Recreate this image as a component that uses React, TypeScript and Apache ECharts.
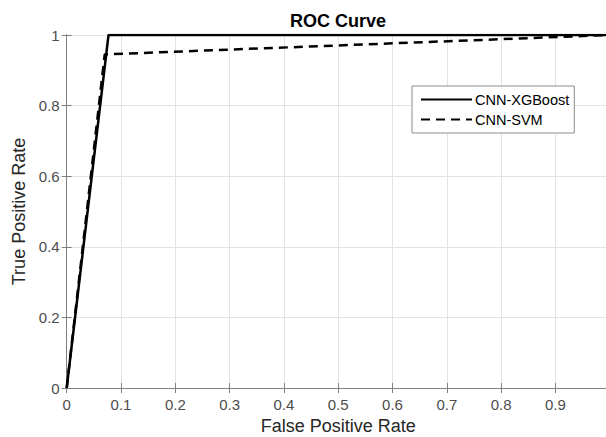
import React, { useEffect, useRef } from "react";
import * as echarts from "echarts";

const seriesNames = ["CNN-XGBoost", "CNN-SVM"];
const xgbFpr = [0, 0.077, 1];
const xgbTpr = [0, 1, 1];
const svmFpr = [0, 0.07, 1];
const svmTpr = [0, 0.945, 1];

const FONT = "Liberation Sans, Arial, sans-serif";
const AXIS = "#7f7f7f";

export default function App() {
  const ref = useRef<HTMLDivElement>(null);
  useEffect(() => {
    if (!ref.current) return;
    const chart = echarts.init(ref.current, undefined, { renderer: "svg" });
    const toPairs = (xs: number[], ys: number[]) => xs.map((x, i) => [x, ys[i]]);
    const hiddenAxisCommon = {
      type: "value" as const,
      min: 0,
      max: 1,
      axisLine: { show: true, lineStyle: { color: AXIS, width: 1 } },
      axisTick: { show: true, inside: true, length: 5, lineStyle: { color: AXIS } },
      axisLabel: { show: false },
      splitLine: { show: false },
    };
    chart.setOption({
      animation: false,
      backgroundColor: "#ffffff",
      textStyle: { fontFamily: FONT },
      title: {
        text: "ROC Curve",
        left: 338,
        textAlign: "center",
        top: 10,
        padding: 0,
        textStyle: { fontSize: 18, fontWeight: "bold", color: "#000", fontFamily: FONT, lineHeight: 21 },
      },
      grid: {
        left: 66.7,
        width: 543,
        top: 35,
        height: 353,
        containLabel: false,
        outerBoundsMode: "none",
      },
      legend: {
        orient: "vertical",
        left: 412,
        top: 86,
        padding: [6, 5, 6, 8],
        itemGap: 5,
        itemWidth: 51,
        itemHeight: 14,
        backgroundColor: "#ffffff",
        borderColor: "#8c8c8c",
        borderWidth: 1,
        itemStyle: { color: "transparent", borderWidth: 0, opacity: 0 },
        textStyle: { fontSize: 14.5, color: "#000", fontFamily: FONT, padding: [0, 0, 0, -2] },
      },
      xAxis: [
        {
          type: "value",
          min: 0,
          max: 1,
          interval: 0.1,
          name: "False Positive Rate",
          nameLocation: "middle",
          nameGap: 27,
          nameTextStyle: { fontSize: 18, color: "#262626", fontFamily: FONT },
          axisLine: { show: true, onZero: false, lineStyle: { color: AXIS, width: 1 } },
          axisTick: { show: true, inside: true, length: 5, lineStyle: { color: AXIS } },
          axisLabel: { fontSize: 15, color: "#4d4d4d", margin: 9, fontFamily: FONT },
          splitLine: { show: true, lineStyle: { color: "#e3e3e3", width: 1 } },
        },
        { ...hiddenAxisCommon, position: "top", interval: 0.1 },
      ],
      yAxis: [
        {
          type: "value",
          min: 0,
          max: 1,
          interval: 0.2,
          name: "True Positive Rate",
          nameLocation: "middle",
          nameGap: 34,
          nameTextStyle: { fontSize: 18, color: "#262626", fontFamily: FONT },
          axisLine: { show: true, onZero: false, lineStyle: { color: AXIS, width: 1 } },
          axisTick: { show: true, inside: true, length: 5, lineStyle: { color: AXIS } },
          axisLabel: { fontSize: 15, color: "#4d4d4d", margin: 7, fontFamily: FONT, padding: [3, 0, 0, 0] },
          splitLine: { show: true, lineStyle: { color: "#e3e3e3", width: 1 } },
        },
        { ...hiddenAxisCommon, position: "right", interval: 0.2 },
      ],
      series: [
        {
          name: seriesNames[0],
          type: "line",
          data: toPairs(xgbFpr, xgbTpr),
          symbol: "none",
          showSymbol: false,
          lineStyle: { color: "#000", width: 2.5, type: "solid" },
          itemStyle: { color: "#000" },
          z: 3,
        },
        {
          name: seriesNames[1],
          type: "line",
          data: toPairs(svmFpr, svmTpr),
          symbol: "none",
          showSymbol: false,
          lineStyle: { color: "#000", width: 2.5, type: [9, 6] },
          itemStyle: { color: "#000" },
          z: 2,
        },
      ],
    });
    return () => chart.dispose();
  }, []);
  return <div ref={ref} style={{ width: 606, height: 437, position: "absolute", left: 0, top: 0 }} />;
}
